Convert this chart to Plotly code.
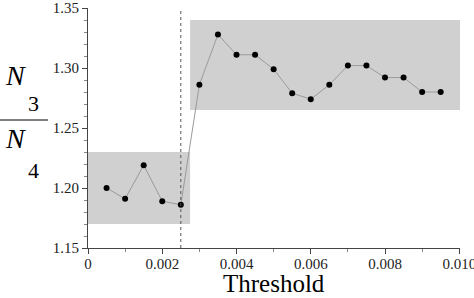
import plotly.graph_objects as go

threshold = [0.0005, 0.0010, 0.0015, 0.0020, 0.0025, 0.0030, 0.0035, 0.0040, 0.0045, 0.0050,
             0.0055, 0.0060, 0.0065, 0.0070, 0.0075, 0.0080, 0.0085, 0.0090, 0.0095]
ratio = [1.200, 1.191, 1.219, 1.189, 1.186, 1.286, 1.328, 1.311, 1.311, 1.299,
         1.279, 1.274, 1.286, 1.302, 1.302, 1.292, 1.292, 1.280, 1.280]
x_ticks = [0, 0.002, 0.004, 0.006, 0.008, 0.010]
x_ticktext = ["0", "0.002", "0.004", "0.006", "0.008", "0.010"]
y_ticks = [1.15, 1.20, 1.25, 1.30, 1.35]
y_ticktext = ["1.15", "1.20", "1.25", "1.30", "1.35"]
low_box = dict(x0=0.0, x1=0.00275, y0=1.17, y1=1.23)
high_box = dict(x0=0.00275, x1=0.01005, y0=1.265, y1=1.34)
split_x = 0.0025

FONT = "Liberation Serif, Times New Roman, serif"
W, H = 474, 298
L, R, T, B = 88, 14, 8, 50
PW, PH = W - L - R, H - T - B

def px(xp):
    return (xp - L) / PW

def py(yp):
    return (H - B - yp) / PH

fig = go.Figure()
fig.add_trace(go.Scatter(
    x=threshold, y=ratio, mode="lines+markers",
    line=dict(color="#9a9a9a", width=1),
    marker=dict(color="black", size=6),
    showlegend=False, cliponaxis=False,
))

for b in (low_box, high_box):
    fig.add_shape(type="rect", xref="x", yref="y", layer="below",
                  fillcolor="#d0d0d0", line=dict(width=0), **b)
fig.add_shape(type="line", xref="x", yref="y", x0=split_x, x1=split_x, y0=1.15, y1=1.35,
              line=dict(color="#555555", width=1, dash="dot"))

# y-axis label: N3 / N4
label_parts = [("<i>N</i>", 15, 75, 28), ("3", 33, 103, 22), ("<i>N</i>", 15, 138, 28), ("4", 33, 170, 22)]
for txt, xp, yp, sz in label_parts:
    fig.add_annotation(text=txt, xref="paper", yref="paper", x=px(xp), y=py(yp),
                       xanchor="center", yanchor="middle", showarrow=False,
                       font=dict(family=FONT, size=sz, color="black"))
fig.add_shape(type="line", xref="paper", yref="paper", x0=px(0), x1=px(48), y0=py(120), y1=py(120),
              line=dict(color="black", width=1))

# x-axis title as annotation to keep exact placement
fig.add_annotation(text="Threshold", xref="paper", yref="paper", x=px(274), y=py(283),
                   xanchor="center", yanchor="middle", showarrow=False,
                   font=dict(family=FONT, size=25, color="black"))

axis_common = dict(
    showgrid=False, zeroline=False, showline=True, linecolor="#444444", linewidth=1,
    ticks="outside", ticklen=5, tickcolor="#444444",
    tickfont=dict(family=FONT, size=15, color="#222222"),
    ticklabeloverflow="allow", automargin=False,
)
fig.update_xaxes(range=[0, 0.01002], tickvals=x_ticks, ticktext=x_ticktext,
                 ticklabelstandoff=-3,
                 minor=dict(dtick=0.001, ticks="outside", ticklen=3, tickcolor="#888888"),
                 **axis_common)
fig.update_yaxes(range=[1.15, 1.35], tickvals=y_ticks, ticktext=y_ticktext,
                 minor=dict(dtick=0.01, ticks="outside", ticklen=3, tickcolor="#888888"),
                 **axis_common)
fig.update_layout(
    width=W, height=H, margin=dict(l=L, r=R, t=T, b=B),
    plot_bgcolor="white", paper_bgcolor="white",
    font=dict(family=FONT, color="#222222"),
)
fig.write_html("out.html")
